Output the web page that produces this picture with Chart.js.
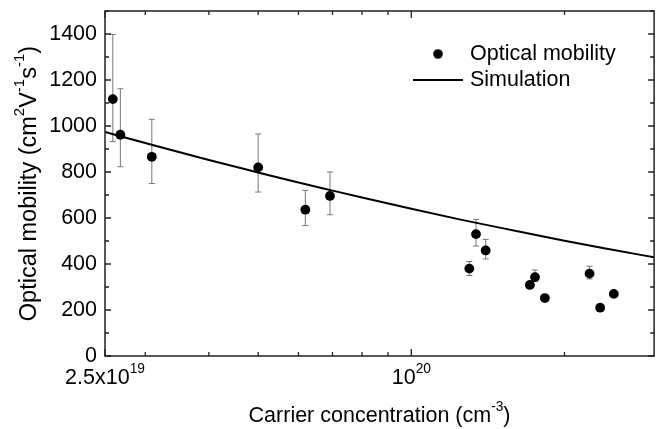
<!DOCTYPE html>
<html><head><meta charset="utf-8">
<script src="https://cdn.jsdelivr.net/npm/chart.js@4.4.1/dist/chart.umd.min.js"></script>
<style>html,body{margin:0;padding:0;background:#fff}#wrap{width:659px;height:429px;position:relative}</style>
</head><body><div id="wrap"><canvas id="c"></canvas></div>
<script>
// ---- data ----
const carrierConc = [2.59e19, 2.68e19, 3.09e19, 5.00e19, 6.19e19, 6.92e19, 1.30e20, 1.34e20, 1.40e20, 1.71e20, 1.75e20, 1.83e20, 2.24e20, 2.35e20, 2.50e20];
const opticalMobility = [1117, 962, 866, 820, 636, 696, 380, 530, 459, 309, 343, 252, 358, 210, 270];
const errLower = [932, 823, 750, 713, 567, 614, 350, 478, 422, null, 324, null, 335, null, null];
const errUpper = [1398, 1162, 1029, 965, 720, 800, 411, 594, 507, null, 374, null, 390, null, null];

const simConc = [2.5e19, 3e19, 4e19, 5e19, 6e19, 7e19, 8e19, 1e20, 1.25e20, 1.5e20, 2e20, 2.5e20, 3e20];
const simMobility = [974, 926, 852, 798, 754, 719, 689, 640, 593, 557, 501, 461, 429];

const xTickValues = [2.5e19, 1e20];
const xTickLabels = ['2.5x10^{19}', '10^{20}'];
const xMinorTicks = [3e19, 4e19, 5e19, 6e19, 7e19, 8e19, 9e19, 2e20];
const yTickStep = 200;
const yMinorStep = 100;

const seriesNames = ['Optical mobility', 'Simulation'];
const xTitle = 'Carrier concentration (cm^{-3})';
const yTitle = 'Optical mobility (cm^{2}V^{-1}s^{-1})';

const FAM = '"Liberation Sans", Arial, Helvetica, sans-serif';
const FS = 21.5;

function parseRich(str){
  const segs = [];
  const re = /\^\{([^}]*)\}/g;
  let last = 0, m;
  while ((m = re.exec(str))){
    if (m.index > last) segs.push({t: str.slice(last, m.index), sup:false});
    segs.push({t: m[1], sup:true});
    last = re.lastIndex;
  }
  if (last < str.length) segs.push({t: str.slice(last), sup:false});
  return segs;
}
function drawRich(ctx, str, x, y, size, align){
  const segs = parseRich(str);
  const supSize = size * 0.64;
  let total = 0;
  segs.forEach(s => {
    ctx.font = (s.sup ? supSize : size) + 'px ' + FAM;
    s.w = ctx.measureText(s.t).width;
    total += s.w;
  });
  let cx = align === 'left' ? x : x - total / 2;
  ctx.textAlign = 'left';
  ctx.textBaseline = 'middle';
  segs.forEach(s => {
    ctx.font = (s.sup ? supSize : size) + 'px ' + FAM;
    ctx.fillText(s.t, cx, s.sup ? y - size * 0.42 : y);
    cx += s.w;
  });
}

const decor = {
  id: 'decor',
  beforeDatasetsDraw(chart){
    const ctx = chart.ctx, xs = chart.scales.x, ys = chart.scales.y;
    ctx.save();
    ctx.strokeStyle = '#777';
    ctx.lineWidth = 1;
    carrierConc.forEach((c, i) => {
      if (errLower[i] == null) return;
      const px = xs.getPixelForValue(c);
      const p1 = ys.getPixelForValue(errLower[i]);
      const p2 = ys.getPixelForValue(errUpper[i]);
      ctx.beginPath();
      ctx.moveTo(px, p1); ctx.lineTo(px, p2);
      ctx.moveTo(px - 3, p1); ctx.lineTo(px + 3, p1);
      ctx.moveTo(px - 3, p2); ctx.lineTo(px + 3, p2);
      ctx.stroke();
    });
    ctx.restore();
  },
  afterDraw(chart){
    const ctx = chart.ctx, xs = chart.scales.x, ys = chart.scales.y;
    const a = chart.chartArea;
    ctx.save();
    ctx.strokeStyle = '#222';
    ctx.lineWidth = 1.5;
    ctx.strokeRect(a.left, a.top, a.right - a.left, a.bottom - a.top);
    ctx.lineWidth = 1.3;
    ctx.beginPath();
    for (let v = 0; v <= ys.max; v += yMinorStep){
      const py = ys.getPixelForValue(v);
      const len = v % yTickStep === 0 ? 6 : 4;
      ctx.moveTo(a.left, py); ctx.lineTo(a.left + len, py);
      ctx.moveTo(a.right, py); ctx.lineTo(a.right - len, py);
    }
    xMinorTicks.forEach(v => {
      const px = xs.getPixelForValue(v);
      ctx.moveTo(px, a.bottom); ctx.lineTo(px, a.bottom - 4);
      ctx.moveTo(px, a.top); ctx.lineTo(px, a.top + 4);
    });
    xTickValues.forEach(v => {
      const px = xs.getPixelForValue(v);
      ctx.moveTo(px, a.bottom); ctx.lineTo(px, a.bottom - 7);
      ctx.moveTo(px, a.top); ctx.lineTo(px, a.top + 7);
    });
    ctx.stroke();

    ctx.fillStyle = '#000';
    xTickValues.forEach((v, i) => {
      drawRich(ctx, xTickLabels[i], xs.getPixelForValue(v), a.bottom + 22, FS, 'center');
    });
    drawRich(ctx, xTitle, (a.left + a.right) / 2, 416, FS, 'center');
    ctx.save();
    ctx.translate(30, (a.top + a.bottom) / 2);
    ctx.rotate(-Math.PI / 2);
    drawRich(ctx, yTitle, 0, 0, 23.5, 'center');
    ctx.restore();

    // legend
    ctx.beginPath();
    ctx.arc(438, 54, 4.8, 0, Math.PI * 2);
    ctx.fill();
    ctx.strokeStyle = '#000';
    ctx.lineWidth = 2;
    ctx.beginPath();
    ctx.moveTo(413, 80); ctx.lineTo(463, 80);
    ctx.stroke();
    drawRich(ctx, seriesNames[0], 470, 54, FS, 'left');
    drawRich(ctx, seriesNames[1], 470, 80, FS, 'left');
    ctx.restore();
  }
};

new Chart(document.getElementById('c'), {
  type: 'scatter',
  data: {
    datasets: [
      {
        label: seriesNames[1],
        data: simConc.map((x, i) => ({x, y: simMobility[i]})),
        showLine: true,
        borderColor: '#000',
        borderWidth: 2,
        pointRadius: 0,
        cubicInterpolationMode: 'monotone'
      },
      {
        label: seriesNames[0],
        data: carrierConc.map((x, i) => ({x, y: opticalMobility[i]})),
        showLine: false,
        pointRadius: 4.9,
        pointBackgroundColor: '#000',
        pointBorderColor: '#000',
        pointBorderWidth: 0
      }
    ]
  },
  options: {
    responsive: true,
    maintainAspectRatio: false,
    animation: false,
    devicePixelRatio: 1,
    layout: { padding: { top: 11, right: 3, left: 0, bottom: 0 } },
    plugins: { legend: { display: false }, tooltip: { enabled: false } },
    scales: {
      x: {
        type: 'logarithmic', min: 2.5e19, max: 3e20,
        grid: { display: false, drawTicks: false },
        border: { display: false },
        ticks: { display: false },
        afterBuildTicks(s){ s.ticks = xTickValues.map(v => ({value: v})); },
        afterFit(s){ s.height = 73; s.paddingLeft = 0; s.paddingRight = 0; }
      },
      y: {
        type: 'linear', min: 0, max: 1500,
        grid: { display: false, drawTicks: false },
        border: { display: false },
        ticks: { stepSize: yTickStep, includeBounds: false, color: '#000', padding: 8, font: { family: FAM, size: 21.5 },
                 callback: v => String(v) },
        afterFit(s){ s.width = 105; s.paddingTop = 0; s.paddingBottom = 0; }
      }
    }
  },
  plugins: [decor]
});
</script>
</body></html>
